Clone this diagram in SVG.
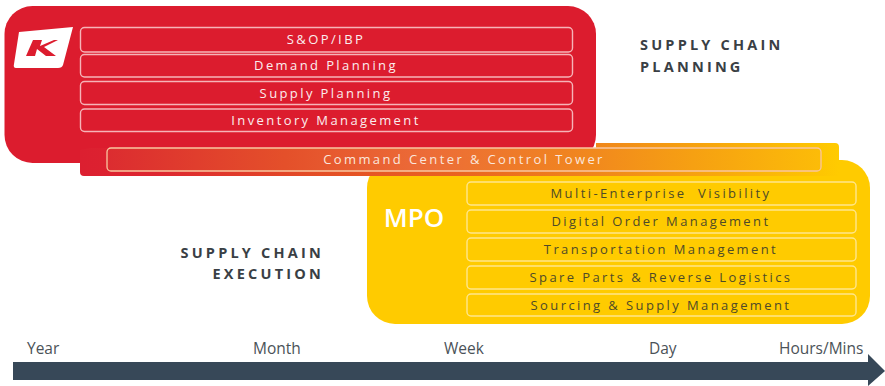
<svg xmlns="http://www.w3.org/2000/svg" width="885" height="386" viewBox="0 0 885 386">
<style>
.lbl{font-family:"Open Sans","Liberation Sans",sans-serif;font-size:13px;font-weight:500;text-anchor:middle;letter-spacing:2.4px;white-space:pre}
.w{fill:#fbeeee}
.d{fill:#4e4a28}
.box{fill:none;stroke-width:1.4;stroke:#f6b4b8}
.ybox{fill:none;stroke-width:1.4;stroke:#ffe68c}
.head{font-family:"Open Sans","Liberation Sans",sans-serif;font-size:14.500px;font-weight:700;letter-spacing:3.2px;fill:#3a3f45}
.t{font-family:"Open Sans","Liberation Sans",sans-serif;font-size:15.500px;fill:#4b5258}
</style>
<defs>
<linearGradient id="band" x1="80" y1="0" x2="839" y2="0" gradientUnits="userSpaceOnUse">
<stop offset="0" stop-color="#dc1f30"/><stop offset="0.1" stop-color="#dd2630"/><stop offset="0.3" stop-color="#e34c26"/><stop offset="0.5" stop-color="#ea6420"/><stop offset="0.68" stop-color="#f0861a"/><stop offset="0.84" stop-color="#f8a80c"/><stop offset="1" stop-color="#ffcb00"/>
</linearGradient>
<linearGradient id="bar" x1="107" y1="0" x2="821" y2="0" gradientUnits="userSpaceOnUse">
<stop offset="0" stop-color="#dc2c30"/><stop offset="0.25" stop-color="#e4502a"/><stop offset="0.45" stop-color="#ec6c38"/><stop offset="0.65" stop-color="#f08420"/><stop offset="0.82" stop-color="#f6a012"/><stop offset="1" stop-color="#fcbc08"/>
</linearGradient>
</defs>
<g id="scp">
<rect x="4.500" y="6" width="591.500" height="157" rx="28" fill="#dc1c2e"/>
<g id="logo"><path d="M19 32 L73 27 L63 65 Q62 68 58 68 L16 68 Q13 68 14 64 Z" fill="#fff"/>
<path d="M33 40 L42 40 L40 46 L54 40 L58 40 L44 47 L56 56 L46 56 L37 49 L35 56 L26 56 Z" fill="#dc1c2e"/></g>
</g>
<g id="mpo">
<rect x="367" y="160" width="503" height="164" rx="28" fill="#ffcb00"/>
</g>
<g id="band-node">
<path d="M80 150 L80 172 Q80 176 84 176 L839 176 L839 147 Q839 143 835 143 L596 143 L596 148 L90 148 Z" fill="url(#band)"/>
<rect x="107" y="148" width="714" height="23" rx="4" fill="url(#bar)" stroke="#f9c6a0" stroke-width="1.300"/>
<text class="lbl" x="464" y="164" fill="#fbe6dc">Command Center &amp; Control Tower</text>
</g>
<g id="n1"><rect class="box" x="80.500" y="27.500" width="492" height="24.500" rx="4"/><text class="lbl w" x="326" y="44">S&amp;OP/IBP</text></g>
<g id="n2"><rect class="box" x="80.500" y="54.500" width="492" height="22.500" rx="4"/><text class="lbl w" x="326" y="70">Demand Planning</text></g>
<g id="n3"><rect class="box" x="80.500" y="81.500" width="492" height="23" rx="4"/><text class="lbl w" x="326" y="98">Supply Planning</text></g>
<g id="n4"><rect class="box" x="80.500" y="109" width="492" height="22.500" rx="4"/><text class="lbl w" x="326" y="125">Inventory Management</text></g>
<text x="414" y="227" font-family="Open Sans,Liberation Sans,sans-serif" font-size="26" font-weight="600" fill="#fff" text-anchor="middle">MPO</text>
<g id="m1"><rect class="ybox" x="467" y="182" width="389" height="23" rx="4"/><text class="lbl d" x="661" y="198">Multi-Enterprise  Visibility</text></g>
<g id="m2"><rect class="ybox" x="467" y="210" width="389" height="23" rx="4"/><text class="lbl d" x="661" y="226">Digital Order Management</text></g>
<g id="m3"><rect class="ybox" x="467" y="238" width="389" height="23" rx="4"/><text class="lbl d" x="661" y="254">Transportation Management</text></g>
<g id="m4"><rect class="ybox" x="467" y="266" width="389" height="23" rx="4"/><text class="lbl d" x="661" y="282">Spare Parts &amp; Reverse Logistics</text></g>
<g id="m5"><rect class="ybox" x="467" y="294" width="389" height="22" rx="4"/><text class="lbl d" x="661" y="310">Sourcing &amp; Supply Management</text></g>
<text class="head" x="640" y="50">SUPPLY CHAIN</text>
<text class="head" x="640" y="72">PLANNING</text>
<text class="head" x="324" y="258" text-anchor="end">SUPPLY CHAIN</text>
<text class="head" x="324" y="279" text-anchor="end">EXECUTION</text>
<g id="axis">
<path d="M13 362 L868 362 L868 354 L885 371 L868 386 L868 380 L13 380 Z" fill="#374858"/>
<text class="t" x="27" y="354">Year</text>
<text class="t" x="253" y="354">Month</text>
<text class="t" x="444" y="354">Week</text>
<text class="t" x="649" y="354">Day</text>
<text class="t" x="779" y="354">Hours/Mins</text>
</g>
</svg>
